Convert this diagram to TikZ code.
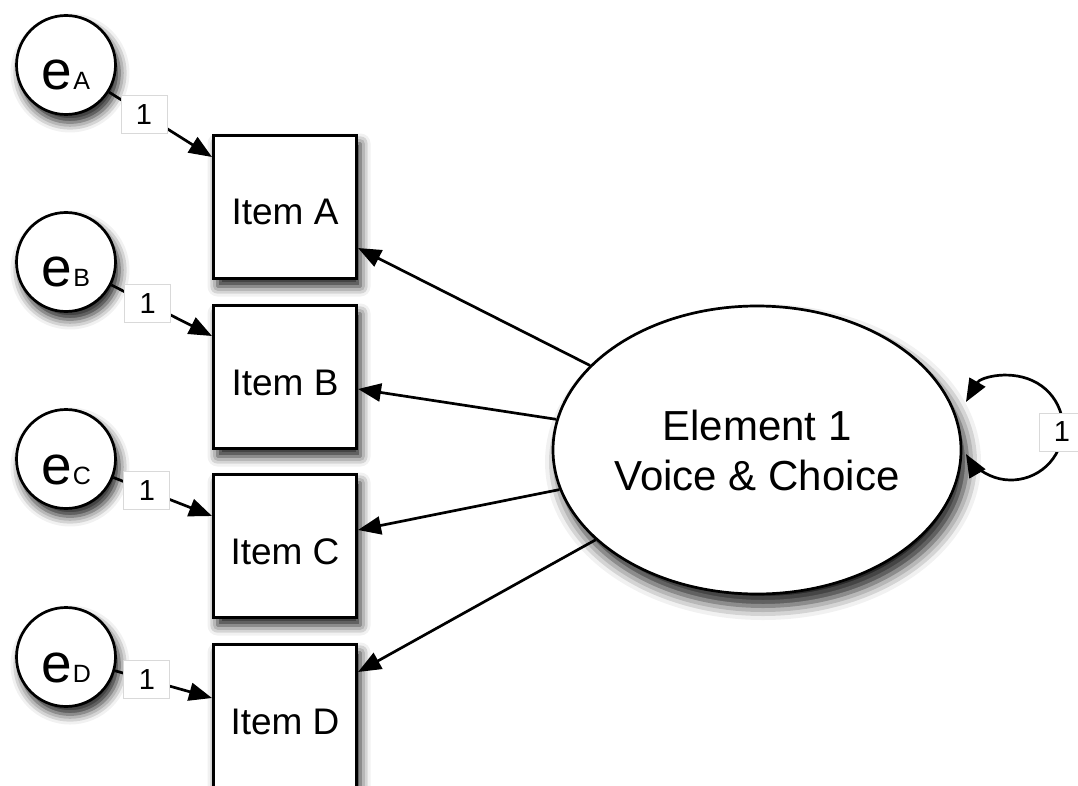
\documentclass[tikz,border=0pt]{standalone}
\usepackage{fontspec}
\setmainfont{Liberation Sans}
\usetikzlibrary{arrows.meta,shapes.geometric,shadows.blur}
\begin{document}
\begin{tikzpicture}[x=1pt,y=-1pt,
  dropshadow/.style={blur shadow={shadow xshift=4pt,shadow yshift=-8pt,shadow blur radius=10pt,shadow opacity=90}},
  errvar/.style={circle,draw,line width=2.7pt,fill=white,minimum size=99pt,inner sep=0pt,
    text height=50pt,text depth=0pt,dropshadow,font=\fontsize{55}{60}\selectfont},
  item/.style={rectangle,draw,line width=3pt,fill=white,minimum width=143pt,minimum height=143pt,
    inner sep=0pt,text height=36pt,text depth=0pt,dropshadow,font=\fontsize{37}{43}\selectfont},
  latent/.style={ellipse,draw,line width=2.7pt,fill=white,minimum width=408pt,minimum height=288pt,
    inner sep=0pt,align=center,font=\fontsize{42}{50}\selectfont,
    blur shadow={shadow xshift=6pt,shadow yshift=-12pt,shadow blur radius=14pt,shadow opacity=90}},
  load/.style={line width=2.7pt,-{Triangle[length=23pt,width=18pt]}},
  loadboth/.style={line width=2.7pt,{Triangle[length=23pt,width=18pt]}-{Triangle[length=23pt,width=18pt]}},
  one/.style={draw=black!15,line width=1pt,fill=white,minimum width=46pt,minimum height=38pt,
    inner sep=0pt,font=\fontsize{29}{34}\selectfont},
]
\useasboundingbox (0,0) rectangle (1078,786);

% error terms
\newcommand{\errtext}[1]{e\kern1pt{\fontsize{25}{28}\selectfont #1}}
\node[errvar] (eA) at (66,65)  {\errtext{A}};
\node[errvar] (eB) at (66,262) {\errtext{B}};
\node[errvar] (eC) at (66,459) {\errtext{C}};
\node[errvar] (eD) at (66,657) {\errtext{D}};

% observed items
\node[item] (itemA) at (285,207) {Item A};
\node[item] (itemB) at (285,377) {Item B};
\node[item] (itemC) at (285,546) {Item C};
\node[item] (itemD) at (285,716) {Item D};

% latent factor
\node[latent] (F) at (757,450) {Element 1\\Voice \& Choice};

% error paths with fixed loadings
\draw[load] (eA) -- ([yshift=-23pt]itemA.north west) node[one,pos=0.34] (oneA) {1};
\draw[load] (eB) -- ([yshift=-32pt]itemB.north west) node[one,pos=0.36] (oneB) {1};
\draw[load] (eC) -- ([yshift=-43pt]itemC.north west) node[one,pos=0.34] (oneC) {1};
\draw[load] (eD) -- ([yshift=-55pt]itemD.north west) node[one,pos=0.33] (oneD) {1};

% factor loadings
\draw[load] (F) -- ([yshift=-114pt]itemA.north east);
\draw[load] (F) -- ([yshift=-85pt]itemB.north east);
\draw[load] (F) -- ([yshift=-57pt]itemC.north east);
\draw[load] (F) -- ([yshift=-29pt]itemD.north east);

% factor variance
\coordinate (loopc) at (1011,428);
\draw[loadboth] ([shift={(-150:52)}]loopc) arc[start angle=-150,end angle=150,radius=52];
\node[one] (oneF) at (1062,432) {1};
\end{tikzpicture}
\end{document}
